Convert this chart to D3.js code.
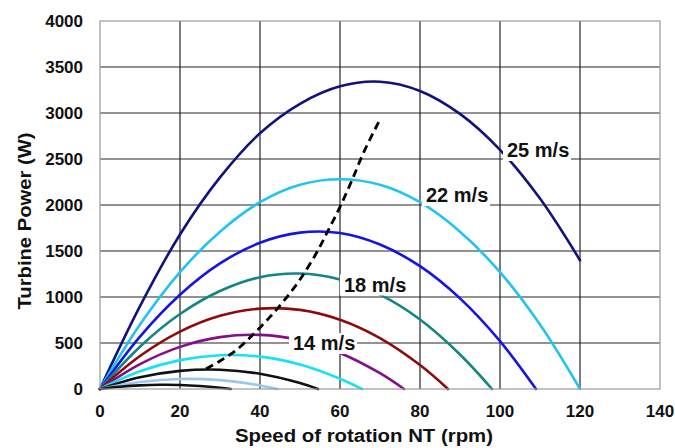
<!DOCTYPE html>
<html>
<head>
<meta charset="utf-8">
<script src="https://cdn.jsdelivr.net/npm/d3@7"></script>
<style>
  html, body { margin: 0; padding: 0; background: #fff; }
  svg { display: block; }
  text { font-family: "Liberation Sans", Arial, sans-serif; font-weight: bold; fill: #111; }
</style>
</head>
<body>
<svg id="chart" width="675" height="448"></svg>
<script>
// ---- Data ----
const xTicks = [0, 20, 40, 60, 80, 100, 120, 140];
const yTicks = [0, 500, 1000, 1500, 2000, 2500, 3000, 3500, 4000];

// rotation speed samples (rpm) and turbine power (W) per wind speed
const speeds = ["25", "22", "20", "18", "16", "14", "12", "10", "8", "6"];
const n25 = [0, 10, 20, 30, 40, 50, 60, 70, 80, 90, 100, 110, 120];
const p25 = [0, 900, 1680, 2300, 2780, 3100, 3290, 3340, 3240, 2990, 2600, 2070, 1400];
const n22 = [0, 10, 20, 30, 40, 50, 60, 70, 80, 90, 100, 110, 120];
const p22 = [0, 700, 1270, 1710, 2030, 2220, 2280, 2220, 2030, 1710, 1270, 700, 0];
const n20 = [0, 10, 20, 30, 40, 50, 60, 70, 80, 90, 100, 109];
const p20 = [0, 570, 1025, 1365, 1590, 1700, 1695, 1570, 1335, 985, 520, 0];
const n18 = [0, 10, 20, 30, 40, 50, 60, 70, 80, 90, 98];
const p18 = [0, 460, 815, 1065, 1215, 1255, 1190, 1025, 755, 375, 0];
const n16 = [0, 10, 20, 30, 40, 50, 60, 70, 80, 87];
const p16 = [0, 358, 623, 795, 874, 860, 753, 553, 260, 0];
const n14 = [0, 10, 20, 30, 40, 50, 60, 70, 76];
const p14 = [0, 270, 458, 564, 588, 531, 392, 172, 0];
const n12 = [0, 10, 20, 30, 40, 50, 60, 65.5];
const p12 = [0, 192, 314, 367, 352, 266, 112, 0];
const n10 = [0, 10, 20, 30, 40, 50, 54.5];
const p10 = [0, 127, 197, 210, 166, 65, 0];
const n8 = [0, 10, 20, 30, 40, 44.4];
const p8 = [0, 77, 109, 96, 39, 0];
const n6 = [0, 5, 10, 15, 20, 25, 30, 32.7];
const p6 = [0, 24, 39, 46, 44, 33, 14, 0];

// dashed operating curve
const nOpt = [26.5, 30, 34, 38, 42, 46, 50, 54, 57, 60, 63, 66, 70];
const pOpt = [220, 305, 420, 580, 760, 960, 1190, 1470, 1720, 1980, 2270, 2580, 2930];

// curve labels
const labelText = ["25 m/s", "22 m/s", "18 m/s", "14 m/s"];
const labelN = [100.75, 80.5, 60, 47.25];
const labelP = [2478, 1989, 1016, 380];

// ---- Styles ----
const colors = ["#12127e", "#22c3ee", "#1414e6", "#138585", "#8e0b0b", "#850d8a", "#16e2f2", "#111111", "#9cc6f2", "#111111"];
const seriesN = [n25, n22, n20, n18, n16, n14, n12, n10, n8, n6];
const seriesP = [p25, p22, p20, p18, p16, p14, p12, p10, p8, p6];

const svg = d3.select("#chart");
const x = d3.scaleLinear().domain([0, 140]).range([100, 660]);
const y = d3.scaleLinear().domain([0, 4000]).range([389, 21]);

// grid
const grid = svg.append("g");
grid.selectAll("line.v").data(xTicks.slice(1, -1)).join("line")
  .attr("x1", d => x(d)).attr("x2", d => x(d))
  .attr("y1", y(4000)).attr("y2", y(0))
  .attr("stroke", "#262626").attr("stroke-width", 1.2);
grid.selectAll("line.h").data(yTicks.slice(1, -1)).join("line")
  .attr("x1", x(0)).attr("x2", x(140))
  .attr("y1", d => y(d)).attr("y2", d => y(d))
  .attr("stroke", "#262626").attr("stroke-width", 1.2);

// curves
const line = d3.line().x(d => x(d[0])).y(d => y(d[1])).curve(d3.curveCatmullRom.alpha(0.5));
const curves = svg.append("g");
speeds.forEach((s, i) => {
  const pts = seriesN[i].map((n, k) => [n, seriesP[i][k]]);
  curves.append("path").datum(pts).attr("d", line)
    .attr("fill", "none").attr("stroke", colors[i]).attr("stroke-width", 2.6)
    .attr("stroke-linecap", "round");
});

// dashed curve
svg.append("path").datum(nOpt.map((n, k) => [n, pOpt[k]])).attr("d", line)
  .attr("fill", "none").attr("stroke", "#000").attr("stroke-width", 2.8)
  .attr("stroke-dasharray", "8,5");

// plot frame
svg.append("rect").attr("x", x(0)).attr("y", y(4000))
  .attr("width", x(140) - x(0)).attr("height", y(0) - y(4000))
  .attr("fill", "none").attr("stroke", "#9a9a9a").attr("stroke-width", 1.2);

// labels with white boxes
const lab = svg.append("g");
labelText.forEach((t, i) => {
  const bx = x(labelN[i]), by = y(labelP[i]);
  lab.append("rect").attr("x", bx).attr("y", by - 21).attr("width", 68).attr("height", 21)
    .attr("fill", "#fff");
  lab.append("text").attr("x", bx + 4).attr("y", by - 4)
    .attr("font-size", 20).text(t);
});

// y axis labels
svg.append("g").selectAll("text").data(yTicks).join("text")
  .attr("x", 83).attr("y", d => y(d)).attr("dy", "0.35em")
  .attr("text-anchor", "end").attr("font-size", 17).text(d => d);

// x axis labels
svg.append("g").selectAll("text").data(xTicks).join("text")
  .attr("x", d => x(d)).attr("y", 417)
  .attr("text-anchor", "middle").attr("font-size", 17).text(d => d);

// axis titles
svg.append("text").attr("x", 364).attr("y", 442).attr("text-anchor", "middle")
  .attr("font-size", 18).attr("textLength", 258).attr("lengthAdjust", "spacingAndGlyphs")
  .text("Speed of rotation NT (rpm)");
svg.append("text").attr("transform", "translate(31,221) rotate(-90)")
  .attr("text-anchor", "middle").attr("font-size", 18)
  .attr("textLength", 177).attr("lengthAdjust", "spacingAndGlyphs")
  .text("Turbine Power (W)");
</script>
</body>
</html>
